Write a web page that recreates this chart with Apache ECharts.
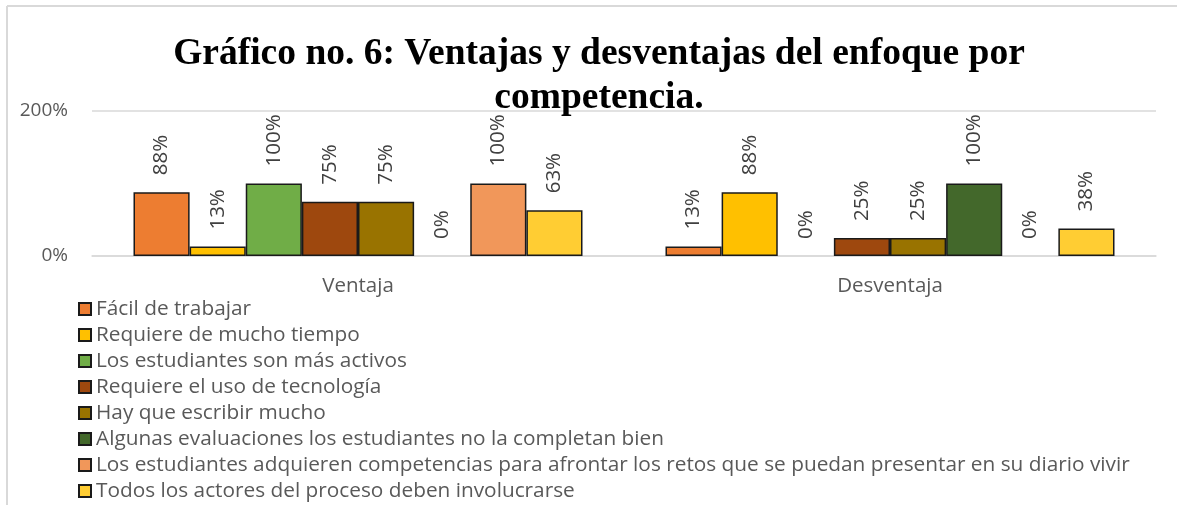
<!DOCTYPE html>
<html>
<head>
	<meta charset="UTF-8">
	<title>Gráfico no. 6</title>
	<style>
		html, body { margin: 0; padding: 0; background: #fff; }
		#chart { width: 1177px; height: 505px; }
	</style>
</head>
<body>
<div id="chart"></div>
<script src="https://cdn.jsdelivr.net/npm/echarts@6/dist/echarts.min.js"></script>
<script type="text/javascript">
var categorias = ['Ventaja', 'Desventaja'];
var series_nombres = [
	'Fácil de trabajar',
	'Requiere de mucho tiempo',
	'Los estudiantes son más activos',
	'Requiere el uso de tecnología',
	'Hay que escribir mucho',
	'Algunas evaluaciones los estudiantes no la completan bien',
	'Los estudiantes adquieren competencias para afrontar los retos que se puedan presentar en su diario vivir',
	'Todos los actores del proceso deben involucrarse'
];
// porcentaje [Ventaja, Desventaja]
var facil = [88, 13];
var tiempo = [13, 88];
var activos = [100, 0];
var tecnologia = [75, 25];
var escribir = [75, 25];
var evaluaciones = [0, 100];
var competencias = [100, 0];
var actores = [63, 38];
var colores = ['#ED7D31', '#FFC000', '#70AD47', '#9E480E', '#997300', '#43682B', '#F1975A', '#FFCD33'];
var ejeY = [0, 200];

var valores = [facil, tiempo, activos, tecnologia, escribir, evaluaciones, competencias, actores];
var fuente = '"Open Sans", sans-serif';

var series = [];
for (var i = 0; i < valores.length; i++) {
	// las barras en 0 no llevan borde
	var datos = valores[i].map(function (v) {
		return v === 0 ? { value: v, itemStyle: { borderWidth: 0 } } : v;
	});
	series.push({
		name: series_nombres[i],
		type: 'bar',
		data: datos,
		barGap: 0,
		barCategoryGap: '15.6%',
		itemStyle: { color: colores[i], borderColor: '#1a1a1a', borderWidth: 1.5 },
		label: {
			show: true,
			position: 'top',
			rotate: 90,
			align: 'left',
			verticalAlign: 'middle',
			distance: 17,
			formatter: '{c}%',
			color: '#404040',
			fontFamily: fuente,
			fontSize: 20.5
		}
	});
}

var chart = echarts.init(document.getElementById('chart'));
chart.setOption({
	animation: false,
	title: {
		text: 'Gráfico no. 6: Ventajas y desventajas del enfoque por\ncompetencia.',
		left: 594,
		top: 27,
		textAlign: 'center',
		textStyle: {
			fontFamily: '"Liberation Serif", serif',
			fontWeight: 'bold',
			fontSize: 37.5,
			lineHeight: 44,
			color: '#000'
		}
	},
	graphic: [
		{ type: 'line', shape: { x1: 7, y1: 6, x2: 1177, y2: 6 }, style: { stroke: '#d9d9d9', lineWidth: 2 } },
		{ type: 'line', shape: { x1: 7, y1: 6, x2: 7, y2: 505 }, style: { stroke: '#d9d9d9', lineWidth: 2 } }
	],
	legend: {
		orient: 'vertical',
		left: 78,
		top: 298,
		height: 260,
		padding: 0,
		itemWidth: 12,
		itemHeight: 12,
		itemGap: 4,
		icon: 'rect',
		data: series_nombres,
		textStyle: { color: '#595959', fontFamily: fuente, fontSize: 20.8, lineHeight: 22 }
	},
	grid: { left: 92, right: 21, top: 111, bottom: 249 },
	xAxis: {
		type: 'category',
		data: categorias,
		axisLine: { lineStyle: { color: '#d9d9d9', width: 1.5 } },
		axisTick: { show: false },
		axisLabel: { color: '#595959', fontFamily: fuente, fontSize: 20.5, margin: 20 }
	},
	yAxis: {
		type: 'value',
		min: ejeY[0],
		max: ejeY[1],
		interval: 200,
		axisLine: { show: false },
		axisTick: { show: false },
		splitLine: { lineStyle: { color: '#d9d9d9', width: 1.5 } },
		axisLabel: { formatter: '{value}%', color: '#595959', fontFamily: fuente, fontSize: 19, margin: 24 }
	},
	series: series
});
</script>
</body>
</html>
